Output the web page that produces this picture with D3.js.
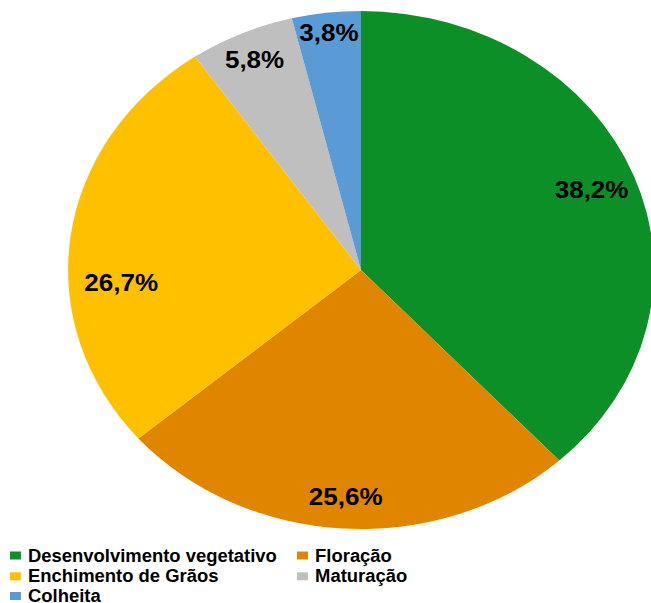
<!DOCTYPE html>
<html><head><meta charset="utf-8">
<script src="https://cdn.jsdelivr.net/npm/d3@7"></script>
<style>body{margin:0;background:#fff}svg{display:block}</style>
</head><body>
<svg id="c" width="651" height="603"></svg>
<script>
const categories = ["Desenvolvimento vegetativo","Floração","Enchimento de Grãos","Maturação","Colheita"];
const values = [38.2, 25.6, 26.7, 5.8, 3.8];
const labels = ["38,2%","25,6%","26,7%","5,8%","3,8%"];
const colors = ["#0D8F27","#DF8500","#FFC000","#BFBFBF","#5B9BD5"];
const labelRadius = [0.845, 0.878, 0.82, 0.89, 0.92];
const labelAngleShift = [0, 0, -10.9, 0, 0]; // degrees

const sx = 1.131;
const svg = d3.select("#c");
const g = svg.append("g").attr("transform", `scale(${sx},1)`);
const cx = 361 / sx, cy = 270, r = 259;

const pie = d3.pie().sort(null).value(d => d)(values);
const arc = d3.arc().innerRadius(0).outerRadius(r);
const pg = g.append("g").attr("transform", `translate(${cx},${cy})`);
pg.selectAll("path").data(pie).join("path")
  .attr("d", arc).attr("fill", (d, i) => colors[i]);

const ang = (d, i) => (d.startAngle + d.endAngle) / 2 + labelAngleShift[i] * Math.PI / 180;
pg.selectAll("text").data(pie).join("text")
  .attr("x", (d, i) => Math.sin(ang(d, i)) * r * labelRadius[i])
  .attr("y", (d, i) => -Math.cos(ang(d, i)) * r * labelRadius[i])
  .attr("text-anchor", "middle").attr("dominant-baseline", "central")
  .attr("font-family", "Liberation Sans, Arial, sans-serif").attr("font-weight", "bold")
  .attr("font-size", 23).attr("fill", "#000")
  .text((d, i) => labels[i]);

// legend
const legPos = [[8.8, 561.5], [262.6, 561.5], [8.8, 582.3], [262.6, 582.3], [8.8, 602]];
const lg = g.append("g");
categories.forEach((c, i) => {
  const [x, y] = legPos[i];
  lg.append("rect").attr("x", x).attr("y", y - 10).attr("width", 9.7).attr("height", 8).attr("fill", colors[i]);
  lg.append("text").attr("transform", `translate(${x + 16},${y}) scale(1,1.12)`)
    .attr("font-family", "Liberation Sans, Arial, sans-serif").attr("font-weight", "bold")
    .attr("font-size", 16.3).attr("fill", "#000").text(c);
});
</script>
</body></html>
